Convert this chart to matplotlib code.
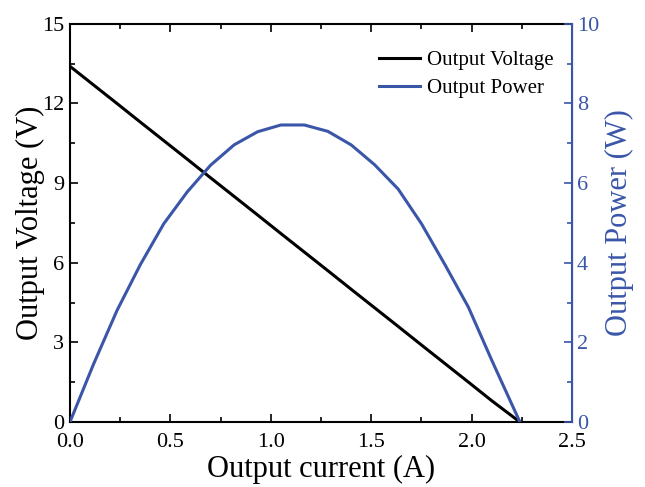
import matplotlib
matplotlib.use('Agg')
import matplotlib.pyplot as plt
from matplotlib.ticker import MultipleLocator

plt.rcParams['font.family'] = ['Liberation Serif', 'DejaVu Serif']
plt.rcParams['mathtext.fontset'] = 'stix'

# data
current = [0.0, 0.117, 0.234, 0.35, 0.467, 0.584, 0.70, 0.817, 0.934, 1.05,
           1.167, 1.284, 1.40, 1.517, 1.634, 1.75, 1.867, 1.984, 2.10, 2.24]
voltage = [13.4, 12.7, 12.0, 11.3, 10.6, 9.9, 9.2, 8.5, 7.8, 7.1,
           6.4, 5.7, 5.0, 4.3, 3.6, 2.9, 2.2, 1.5, 0.8, 0.0]
power = [0.0, 1.45, 2.8, 3.95, 4.98, 5.78, 6.45, 6.96, 7.29, 7.46,
         7.46, 7.30, 6.96, 6.46, 5.85, 4.98, 3.95, 2.88, 1.55, 0.0]

blue = '#3a56a8'

fig = plt.figure(figsize=(6.45, 4.87), dpi=100)
ax = fig.add_axes([0.1085, 0.1335, 0.7785, 0.8175])
ax2 = ax.twinx()

l1, = ax.plot(current, voltage, color='black', lw=2.2, label='Output Voltage')
l2, = ax2.plot(current, power, color=blue, lw=2.2, label='Output Power')

ax.set_xlim(0, 2.5)
ax.set_ylim(0, 15)
ax2.set_ylim(0, 10)

ax.xaxis.set_major_locator(MultipleLocator(0.5))
ax.xaxis.set_minor_locator(MultipleLocator(0.25))
ax.yaxis.set_major_locator(MultipleLocator(3))
ax.yaxis.set_minor_locator(MultipleLocator(1.5))
ax2.yaxis.set_major_locator(MultipleLocator(2))
ax2.yaxis.set_minor_locator(MultipleLocator(1))

ax.tick_params(which='both', direction='in', top=True, right=False, labelsize=16, width=1.2)
ax.tick_params(which='major', length=6)
ax.tick_params(which='minor', length=3.5)
ax.tick_params(axis='x', pad=8)
ax.tick_params(axis='y', pad=4)
ax2.tick_params(which='both', direction='in', colors=blue, labelsize=16, width=1.2)
ax2.tick_params(which='major', length=6)
ax2.tick_params(which='minor', length=3.5)

ax.xaxis.set_major_formatter(plt.FuncFormatter(lambda v, p: f'{v:.1f}'))

for s in ['left', 'bottom', 'top']:
    ax.spines[s].set_linewidth(1.5)
ax2.spines['right'].set_color(blue)
ax2.spines['right'].set_linewidth(1.5)
for s in ['left', 'bottom', 'top']:
    ax2.spines[s].set_visible(False)

ax.set_xlabel('Output current (A)', fontsize=22, labelpad=2)
ax.set_ylabel('Output Voltage (V)', fontsize=22, labelpad=-2)
ax2.set_ylabel('Output Power (W)', fontsize=22, color=blue, labelpad=4)

ax2.legend(handles=[l1, l2], loc='upper right', frameon=False, fontsize=15,
           handlelength=2.0, handletextpad=0.3, labelspacing=0.4,
           bbox_to_anchor=(1.0, 0.98))

fig.savefig('out.png', dpi=100)
